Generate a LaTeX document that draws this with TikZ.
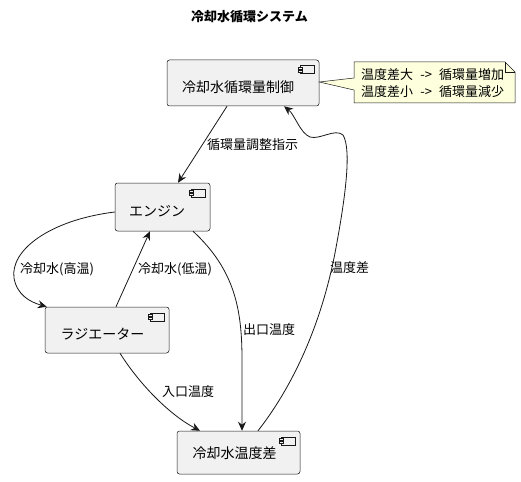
\documentclass[tikz,border=0pt]{standalone}
\usepackage{fontspec}
\setmainfont{Noto Sans CJK JP}
\usetikzlibrary{arrows.meta,calc}
\definecolor{lnc}{HTML}{181818}
\definecolor{boxfill}{HTML}{F1F1F1}
\definecolor{notefill}{HTML}{FEFFDD}
\newcommand\compicon[1]{%
  \draw[lnc, line width=0.5pt, fill=boxfill] ($(#1.north east)+(-19,6)$) rectangle ($(#1.north east)+(-5,14)$);
  \draw[lnc, line width=0.5pt, fill=boxfill] ($(#1.north east)+(-21,7.5)$) rectangle ($(#1.north east)+(-17,9.5)$);
  \draw[lnc, line width=0.5pt, fill=boxfill] ($(#1.north east)+(-21,10.5)$) rectangle ($(#1.north east)+(-17,12.5)$);
}
\tikzset{
  comp/.style={draw=lnc, fill=boxfill, line width=0.5pt, rounded corners=2.5pt, inner sep=0pt,
    font=\fontsize{14}{16}\selectfont, text height=20pt, text depth=1.4pt},
  conn/.style={draw=lnc, line width=0.8pt, -{Stealth[length=9pt,width=8pt,inset=3pt]}},
  lbl/.style={font=\fontsize{13}{15}\selectfont, inner sep=0pt, anchor=west},
}
\begin{document}
\begin{tikzpicture}[x=1pt,y=-1pt]
\fill[white] (0,0) rectangle (521,481);
\useasboundingbox (0,0) rectangle (521,481);

\node[font=\fontsize{13}{15}\selectfont\bfseries] (title) at (249.5,17) {冷却水循環システム};

\node[comp, minimum width=152pt, minimum height=46pt] (ctrl) at (243,83) {冷却水循環量制御\kern10pt};
\node[comp, minimum width=95pt, minimum height=48pt] (eng) at (162.5,207) {エンジン\kern11pt};
\node[comp, minimum width=124pt, minimum height=46pt] (rad) at (107,330) {ラジエーター\kern9pt};
\node[comp, minimum width=123pt, minimum height=43pt, text height=14pt] (diff) at (238.5,452.5) {冷却水温度差\kern8pt};
\compicon{ctrl}
\compicon{eng}
\compicon{rad}
\compicon{diff}

% note
\draw[lnc, line width=0.5pt, fill=notefill] (354,62) -- (505,62) -- (515,72) -- (515,103) -- (354,103) -- (354,90) -- ([yshift=1pt]ctrl.east) -- (354,78) -- cycle;
\draw[lnc, line width=0.5pt] (505,62) -- (505,72) -- (515,72);
\node[font=\fontsize{13}{17}\selectfont, align=left, anchor=west, inner sep=0pt] (note) at (361,83.5)
  {温度差大\makebox[26pt]{->}循環量増加\\温度差小\makebox[26pt]{->}循環量減少};

% connectors
\draw[conn] ([xshift=-16pt]ctrl.south) -- ([xshift=15.5pt]eng.north);
\draw[conn] ([yshift=-5pt]eng.west) .. controls (50,220) and (10,250) .. (14,278)
  .. controls (17,295) and (30,302) .. ([xshift=2pt]rad.north west);
\draw[conn] ([xshift=9pt]rad.north) -- ([xshift=-12.5pt]eng.south);
\draw[conn] ([xshift=30.5pt]eng.south) .. controls (235,270) and (242,310) .. (242,360) -- ([xshift=3.5pt]diff.north);
\draw[conn] ([xshift=13pt]rad.south) .. controls (140,385) and (170,415) .. ([xshift=-38.5pt]diff.north);
\draw[conn] ([xshift=19.5pt]diff.north) .. controls (290,390) and (320,330) .. (335,253)
  .. controls (345,200) and (352,150) .. (343,135)
  .. controls (335,128) and (320,140) .. (310,137)
  .. controls (300,133) and (295,115) .. ([xshift=41pt]ctrl.south);

% labels
\node[lbl] (l1) at (207,145) {循環量調整指示};
\node[lbl] (l2) at (20,269) {冷却水(高温)};
\node[lbl] (l3) at (138,269) {冷却水(低温)};
\node[lbl] (l4) at (243,330) {出口温度};
\node[lbl] (l5) at (162,392) {入口温度};
\node[lbl] (l6) at (330,268) {温度差};
\end{tikzpicture}
\end{document}
